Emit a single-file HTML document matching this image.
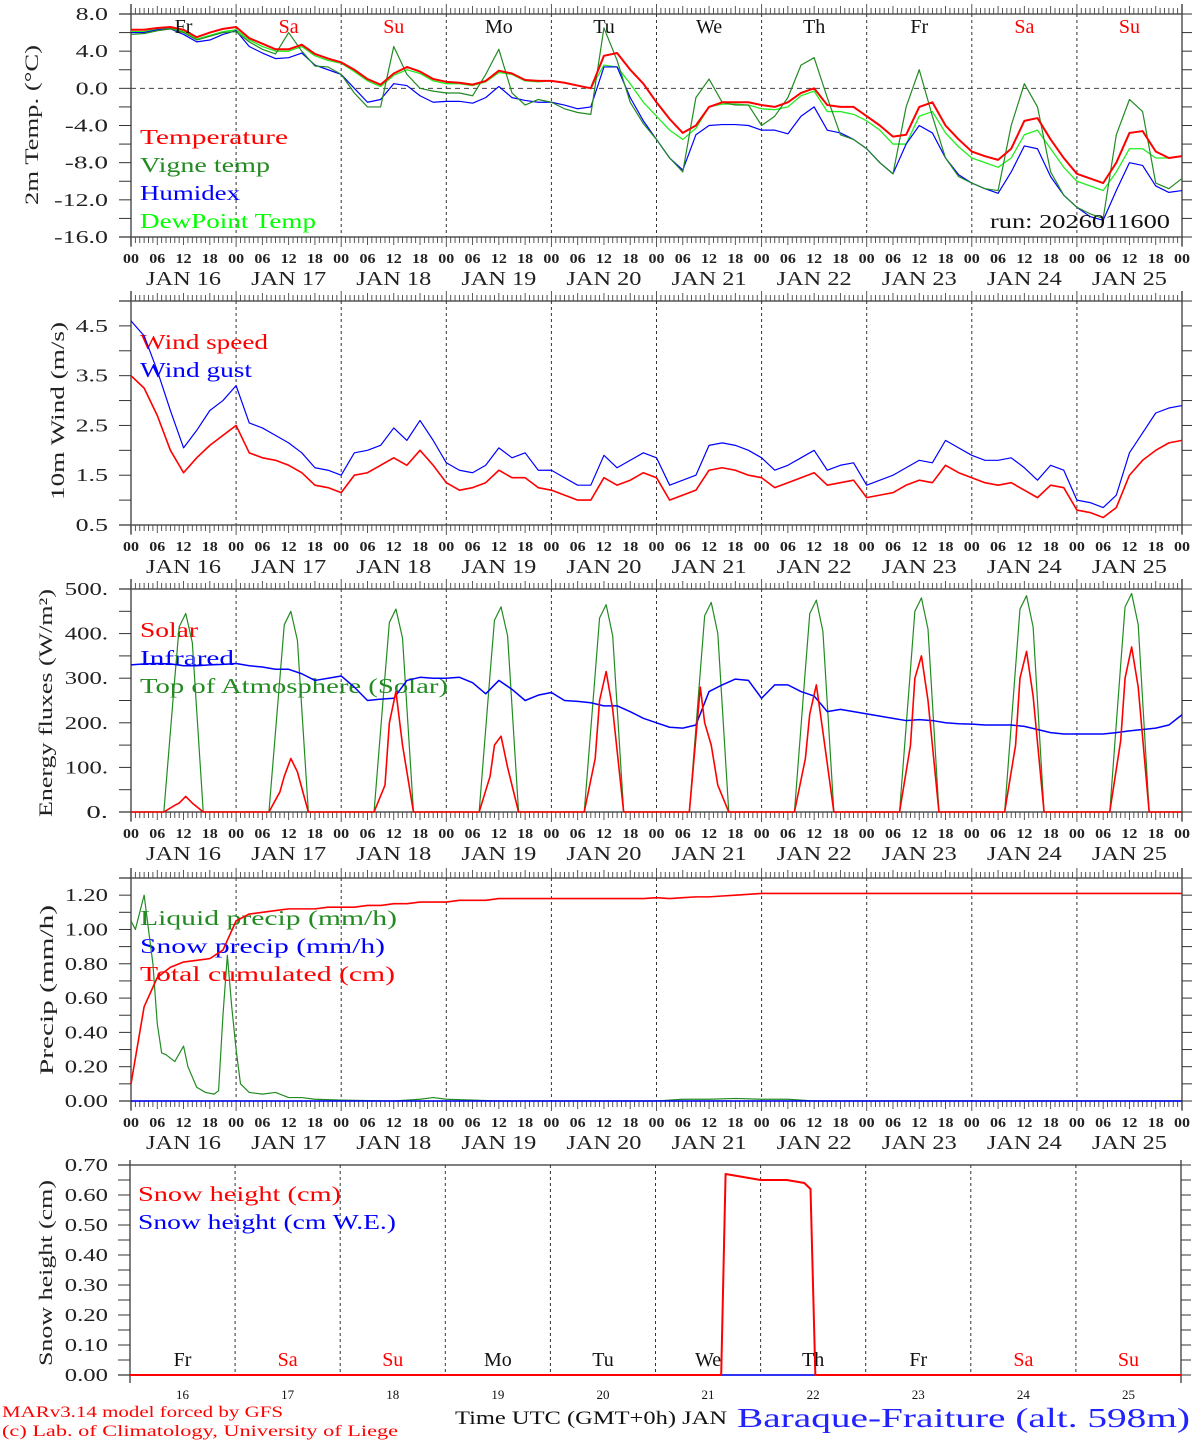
<!DOCTYPE html>
<html><head><meta charset="utf-8"><style>
html,body{margin:0;padding:0;background:#fff}
svg{display:block}
text{font-family:"Liberation Serif",serif}
</style></head><body>
<svg id="chart" width="1194" height="1440" viewBox="0 0 1194 1440" xmlns="http://www.w3.org/2000/svg"></svg>
<script>
// ---------- DATA ----------
const dayNames = ["Fr","Sa","Su","Mo","Tu","We","Th","Fr","Sa","Su"];
const dayNums = ["16","17","18","19","20","21","22","23","24","25"];
const hourTicks = ["00","06","12","18"];
// 3-hourly series (81 values, 00h JAN16 .. 00h JAN26)
const temperature = [6.3,6.3,6.5,6.6,6.3,5.5,6.0,6.4,6.6,
 5.4,4.8,4.2,4.2,4.7,3.7,3.2,2.8,
 2.0,1.0,0.4,1.6,2.3,1.8,1.0,0.7,
 0.6,0.4,0.8,1.9,1.6,0.9,0.8,0.8,
 0.6,0.3,0.0,3.5,3.8,2.0,0.5,-1.5,
 -3.3,-4.8,-4.0,-2.0,-1.5,-1.5,-1.5,-1.8,
 -2.0,-1.5,-0.5,0.0,-1.8,-2.0,-2.0,-3.0,
 -4.0,-5.2,-5.0,-2.0,-1.5,-4.0,-5.5,-6.8,
 -7.3,-7.7,-6.5,-3.5,-3.2,-5.5,-7.5,-9.2,
 -9.7,-10.2,-8.0,-4.8,-4.6,-6.8,-7.5,-7.3];
const vigneTemp = [5.8,5.9,6.2,6.4,6.0,5.2,5.6,6.0,6.1,
 5.0,4.2,3.7,6.0,4.0,2.4,2.3,1.5,
 -0.5,-2.0,-2.0,4.5,1.5,0.0,-0.3,-0.5,
 -0.5,-0.8,1.5,4.2,-0.5,-1.8,-1.2,-1.5,
 -2.2,-2.6,-2.8,6.5,3.0,-1.5,-3.8,-5.5,
 -7.5,-9.0,-1.0,1.0,-1.5,-1.8,-1.8,-4.0,
 -3.0,-1.0,2.5,3.3,-1.0,-5.0,-5.5,-6.5,
 -8.0,-9.2,-2.0,2.0,-3.0,-7.5,-9.5,-10.2,
 -10.8,-11.0,-4.0,0.5,-2.0,-9.0,-11.5,-12.8,
 -13.5,-14.0,-5.0,-1.2,-2.5,-10.2,-10.8,-9.7];
const humidex = [6.0,6.0,6.3,6.4,5.8,5.0,5.2,5.8,6.2,
 4.5,3.8,3.2,3.3,3.8,2.5,2.0,1.5,
 0.0,-1.5,-1.2,0.5,0.3,-0.8,-1.5,-1.4,
 -1.4,-1.6,-1.0,0.2,-1.0,-1.3,-1.5,-1.5,
 -1.8,-2.2,-2.0,2.3,2.3,-1.0,-3.5,-5.5,
 -7.5,-8.8,-5.0,-4.0,-3.9,-3.9,-4.0,-4.5,
 -4.5,-4.9,-3.0,-2.0,-4.5,-4.8,-5.5,-6.5,
 -8.0,-9.2,-6.0,-4.0,-4.8,-7.5,-9.3,-10.2,
 -10.8,-11.3,-9.0,-6.2,-6.5,-9.5,-11.5,-12.8,
 -13.8,-14.2,-11.0,-8.0,-8.3,-10.5,-11.2,-11.0];
const dewPoint = [6.1,6.1,6.4,6.5,6.1,5.3,5.7,6.1,6.3,
 5.2,4.5,4.0,4.0,4.5,3.5,3.0,2.7,
 1.8,0.8,0.2,1.4,2.0,1.6,0.8,0.5,
 0.5,0.3,0.7,1.7,1.5,0.8,0.7,0.8,
 0.6,0.3,0.0,2.5,2.3,0.5,-1.5,-3.0,
 -4.5,-5.5,-4.3,-2.0,-1.7,-1.7,-1.8,-2.2,
 -2.3,-2.0,-0.8,-0.3,-2.5,-2.5,-2.8,-3.5,
 -4.5,-6.0,-6.0,-3.0,-2.5,-4.8,-6.3,-7.5,
 -8.0,-8.5,-7.5,-5.0,-4.5,-6.5,-8.5,-10.0,
 -10.5,-11.0,-9.0,-6.5,-6.5,-7.5,-7.5,-7.3];
const windSpeed = [3.5,3.25,2.7,2.0,1.55,1.85,2.1,2.3,
 2.5,1.95,1.85,1.8,1.7,1.55,1.3,1.25,
 1.15,1.5,1.55,1.7,1.85,1.7,2.0,1.7,
 1.35,1.2,1.25,1.35,1.6,1.45,1.45,1.25,
 1.2,1.1,1.0,1.0,1.45,1.3,1.4,1.55,
 1.45,1.0,1.1,1.2,1.6,1.65,1.6,1.5,
 1.45,1.25,1.35,1.45,1.55,1.3,1.35,1.4,
 1.05,1.1,1.15,1.3,1.4,1.35,1.7,1.55,
 1.45,1.35,1.3,1.35,1.2,1.05,1.3,1.25,
 0.8,0.75,0.65,0.85,1.5,1.8,2.0,2.15,2.2];
const windGust = [4.6,4.3,3.6,2.8,2.05,2.4,2.8,3.0,
 3.3,2.55,2.45,2.3,2.15,1.95,1.65,1.6,
 1.5,1.95,2.0,2.1,2.45,2.2,2.6,2.2,
 1.75,1.6,1.55,1.7,2.05,1.85,1.95,1.6,
 1.6,1.45,1.3,1.3,1.9,1.65,1.8,1.95,
 1.85,1.3,1.4,1.5,2.1,2.15,2.1,2.0,
 1.85,1.6,1.7,1.85,2.0,1.6,1.7,1.75,
 1.3,1.4,1.5,1.65,1.8,1.75,2.2,2.05,
 1.9,1.8,1.8,1.85,1.65,1.4,1.7,1.6,
 1.0,0.95,0.85,1.1,1.95,2.35,2.75,2.85,2.9];
const infrared = [330,332,333,332,328,328,330,331,
 333,328,325,320,320,310,295,300,
 305,280,250,253,255,295,302,300,
 300,302,290,265,295,275,250,262,
 268,250,248,245,238,238,225,210,
 200,190,188,195,270,285,298,295,
 255,285,285,270,260,225,230,225,
 220,215,210,205,207,205,200,198,
 197,195,195,195,192,185,178,175,
 175,175,175,178,182,185,188,195,218];
const totalCum = [0.10,0.55,0.72,0.78,0.81,0.82,0.83,0.88,
 1.05,1.09,1.10,1.11,1.12,1.12,1.12,1.13,
 1.13,1.13,1.14,1.14,1.15,1.15,1.16,1.16,
 1.16,1.17,1.17,1.17,1.18,1.18,1.18,1.18,
 1.18,1.18,1.18,1.18,1.18,1.18,1.18,1.18,
 1.185,1.18,1.185,1.19,1.19,1.195,1.20,1.205,
 1.21,1.21,1.21,1.21,1.21,1.21,1.21,1.21,
 1.21,1.21,1.21,1.21,1.21,1.21,1.21,1.21,
 1.21,1.21,1.21,1.21,1.21,1.21,1.21,1.21,
 1.21,1.21,1.21,1.21,1.21,1.21,1.21,1.21,1.21];
const snowPrecip = [0,0,0,0,0,0,0,0,0,0,0,0,0,0,0,0,0,0,0,0,0,0,0,0,0,0,0,0,0,0,0,0,0,0,0,0,0,0,0,0,
 0,0,0,0,0,0,0,0,0,0,0,0,0,0,0,0,0,0,0,0,0,0,0,0,0,0,0,0,0,0,0,0,0,0,0,0,0,0,0,0,0];
// liquid precip with its own hours
const liquidHours = [0,1,3,5,6,7,8,10,12,13,15,17,19,20,21,22,23,24,25,27,30,33,36,39,42,48,60,66,69,72,84,120,126,132,138,144,150,156,168,240];
const liquidPrecip = [1.05,1.0,1.2,0.8,0.45,0.28,0.27,0.23,0.32,0.2,0.08,0.05,0.04,0.06,0.5,0.85,0.55,0.3,0.1,0.05,0.04,0.05,0.02,0.02,0.01,0.005,0.0,0.01,0.02,0.01,0.0,0.0,0.01,0.01,0.015,0.01,0.01,0.0,0.0,0.0];
// radiation with its own hours
const fluxHoursOfDay = [0,7.5,10,11,12.5,14,16.5];
const toaSolar = [0,0,300,415,445,380,0, 0,0,300,420,450,385,0, 0,0,305,425,455,390,0, 0,0,310,430,460,395,0, 0,0,310,435,465,395,0,
 0,0,315,440,470,400,0, 0,0,320,445,475,405,0, 0,0,320,450,480,410,0, 0,0,325,455,485,415,0, 0,0,330,460,490,420,0, 0];
const solar = [0,0,15,20,35,20,0, 0,0,45,80,120,90,0, 0,0,60,200,270,150,0, 0,0,80,150,170,100,0, 0,0,120,250,315,230,0,
 0,0,280,200,150,60,0, 0,0,120,220,285,180,0, 0,0,150,300,350,250,0, 0,0,150,300,360,260,0, 0,0,160,300,370,280,0, 0];
// snow height
const snowHours = [0,135,136,144,150,154,155.4,156.5,240];
const snowHeight = [0,0,0.67,0.65,0.65,0.64,0.62,0,0];
const snowWE = [0,0,0,0,0,0,0,0,0];

// ---------- DRAW ----------
const svg = document.getElementById('chart');
const NS = 'http://www.w3.org/2000/svg';
function el(tag, attrs, parent){const e=document.createElementNS(NS,tag);for(const k in attrs)e.setAttribute(k,attrs[k]);(parent||svg).appendChild(e);return e;}
function txt(s, attrs, parent){const e=el('text',attrs,parent);e.textContent=s;return e;}

function makePanel(cfg){
  const g=el('g',{});
  
  
  const X0=cfg.x0, X1=cfg.x1, T=cfg.top, B=cfg.bottom;
  const xh=h=>X0+(X1-X0)*h/240;
  const yv=v=>B-(v-cfg.vmin)/(cfg.vmax-cfg.vmin)*(B-T);
  for(let d=1;d<10;d++){
    const l=el('line',{x1:xh(d*24),x2:xh(d*24),y1:T,y2:B,stroke:'#333','stroke-width':1,'stroke-dasharray':'3,3'},g);
    
    
  }
  if(cfg.zeroLine){
    const l=el('line',{x1:X0,x2:X1,y1:yv(0),y2:yv(0),stroke:'#444','stroke-width':1,'stroke-dasharray':'5,4'},g);
    
    
  }
  el('line',{x1:X0-12,x2:X1,y1:T,y2:T,stroke:'#333','stroke-width':1.3},g);
  el('line',{x1:X0-12,x2:X1,y1:B,y2:B,stroke:'#333','stroke-width':1.3},g);
  el('line',{x1:X0,x2:X0,y1:cfg.hatch?T-10:T-5,y2:B+(cfg.hatch?9:8),stroke:'#555','stroke-width':1.5},g);
  el('line',{x1:X1,x2:X1,y1:cfg.hatch?T-10:T-5,y2:B+(cfg.hatch?9:8),stroke:'#555','stroke-width':1.5},g);
  if(cfg.hatch){
    for(let h=0;h<=240;h++){
      const len=h%24===0?10:(h%6===0?8:6);
      el('line',{x1:xh(h),x2:xh(h),y1:T-len,y2:T,stroke:'#444','stroke-width':0.9},g);
      el('line',{x1:xh(h),x2:xh(h),y1:B,y2:B+len,stroke:'#444','stroke-width':0.9},g);
    }
  }
  const nMinor=Math.round((cfg.vmax-cfg.vmin)/cfg.minor);
  for(let i=0;i<=nMinor;i++){
    const v=cfg.vmin+i*cfg.minor, y=yv(v);
    el('line',{x1:X0-12,x2:X0,y1:y,y2:y,stroke:'#333','stroke-width':1},g);
    el('line',{x1:X1,x2:X1+10,y1:y,y2:y,stroke:'#333','stroke-width':1},g);
  }
  cfg.labels.forEach(lb=>{
    const t=txt(lb.t,{x:108,y:yv(lb.v)+6,'text-anchor':'end','font-size':18,fill:'#222',textLength:lb.t.length*10.8,lengthAdjust:'spacingAndGlyphs'},g);
    
    
  });
  const yt=txt(cfg.ytitle,{x:0,y:0,transform:`translate(${cfg.ytx},${cfg.yty}) rotate(-90)`,'text-anchor':'middle','font-size':19,fill:'#222',textLength:cfg.ytl,lengthAdjust:'spacingAndGlyphs'},g);
  
  
  if(cfg.hourLabels){
    for(let d=0;d<=10;d++){
      for(let k=0;k<4;k++){
        if(d===10&&k>0)break;
        const t=txt(hourTicks[k],{x:xh(d*24+k*6),y:B+26,'text-anchor':'middle','font-size':14,'font-weight':'bold',fill:'#222',textLength:16,lengthAdjust:'spacingAndGlyphs'},g);
        
        
      }
    }
    for(let d=0;d<10;d++){
      const t=txt('JAN  '+dayNums[d],{x:xh(d*24+12),y:B+48,'text-anchor':'middle','font-size':20,fill:'#222',textLength:75,lengthAdjust:'spacingAndGlyphs'},g);
      
      
    }
  }
  cfg.legend.forEach((lg,i)=>{
    const t=txt(lg.t,{x:cfg.legX,y:cfg.legY+i*28,'font-size':21,fill:lg.c,textLength:lg.w,lengthAdjust:'spacingAndGlyphs'},g);
    
    
  });
  return {g,xh,yv};
}
function series(p, hours, vals, color, w, name){
  let d='';
  vals.forEach((v,i)=>{d+=(i?'L':'M')+p.xh(hours[i]).toFixed(2)+','+p.yv(v).toFixed(2);});
  const path=el('path',{d,fill:'none',stroke:color,'stroke-width':w,'stroke-linejoin':'round'},p.g);
  
  
}
const h3 = totalCum.map((_,i)=>i*3);
const fluxHours=[];
for(let d=0;d<10;d++) fluxHoursOfDay.forEach(h=>fluxHours.push(d*24+h));
fluxHours.push(240);

// Panel 1
const p1=makePanel({name:'temperature-panel',x0:131,x1:1182,top:14,bottom:237,vmin:-16,vmax:8,minor:2,hatch:true,hourLabels:true,zeroLine:true,
 labels:[{v:8,t:'8.0'},{v:4,t:'4.0'},{v:0,t:'0.0'},{v:-4,t:'-4.0'},{v:-8,t:'-8.0'},{v:-12,t:'-12.0'},{v:-16,t:'-16.0'}],
 ytitle:'2m Temp. (°C)',ytx:38,yty:125,ytl:160,legX:140,legY:144,
 legend:[{t:'Temperature',c:'#f00',w:148},{t:'Vigne temp',c:'#228b22',w:130},{t:'Humidex',c:'#00f',w:100},{t:'DewPoint Temp',c:'#0f0',w:176}]});
series(p1,h3,dewPoint,'#22ee22',1.3,'dewpoint-line');
series(p1,h3,humidex,'#0000ff',1.2,'humidex-line');
series(p1,h3,vigneTemp,'#228b22',1.2,'vigne-temp-line');
series(p1,h3,temperature,'#ff0000',2,'temperature-line');
dayNames.forEach((n,d)=>{
  const t=txt(n,{x:p1.xh(d*24+12),y:33,'text-anchor':'middle','font-size':20,fill:(n==='Sa'||n==='Su')?'#f00':'#111'},p1.g);
  
  
});
const run=txt('run: 2026011600',{x:990,y:228,'font-size':20,fill:'#111',textLength:180,lengthAdjust:'spacingAndGlyphs'},p1.g);



// Panel 2
const p2=makePanel({name:'wind-panel',x0:131,x1:1182,top:301,bottom:525,vmin:0.5,vmax:5.0,minor:0.5,hatch:true,hourLabels:true,
 labels:[{v:4.5,t:'4.5'},{v:3.5,t:'3.5'},{v:2.5,t:'2.5'},{v:1.5,t:'1.5'},{v:0.5,t:'0.5'}],
 ytitle:'10m Wind (m/s)',ytx:64,yty:411,ytl:178,legX:140,legY:349,
 legend:[{t:'Wind speed',c:'#f00',w:128},{t:'Wind gust',c:'#00f',w:112}]});
series(p2,h3,windGust,'#0000ff',1.2,'wind-gust-line');
series(p2,h3,windSpeed,'#ff0000',1.6,'wind-speed-line');

// Panel 3
const p3=makePanel({name:'energy-flux-panel',x0:131,x1:1182,top:589,bottom:812,vmin:0,vmax:500,minor:50,hatch:true,hourLabels:true,
 labels:[{v:500,t:'500.'},{v:400,t:'400.'},{v:300,t:'300.'},{v:200,t:'200.'},{v:100,t:'100.'},{v:0,t:'0.'}],
 ytitle:'Energy fluxes (W/m²)',ytx:52,yty:703,ytl:228,legX:140,legY:637,
 legend:[{t:'Solar',c:'#f00',w:58},{t:'Infrared',c:'#00f',w:94},{t:'Top of Atmosphere (Solar)',c:'#228b22',w:308}]});
series(p3,fluxHours,toaSolar,'#228b22',1.2,'toa-solar-line');
series(p3,h3,infrared,'#0000ff',1.5,'infrared-line');
series(p3,fluxHours,solar,'#ff0000',1.6,'solar-line');

// Panel 4
const p4=makePanel({name:'precip-panel',x0:131,x1:1182,top:878,bottom:1101,vmin:0,vmax:1.3,minor:0.1,hatch:true,hourLabels:true,
 labels:[{v:1.2,t:'1.20'},{v:1.0,t:'1.00'},{v:0.8,t:'0.80'},{v:0.6,t:'0.60'},{v:0.4,t:'0.40'},{v:0.2,t:'0.20'},{v:0,t:'0.00'}],
 ytitle:'Precip (mm/h)',ytx:53,yty:990,ytl:170,legX:140,legY:925,
 legend:[{t:'Liquid precip (mm/h)',c:'#228b22',w:257},{t:'Snow precip (mm/h)',c:'#00f',w:245},{t:'Total cumulated (cm)',c:'#f00',w:255}]});
series(p4,liquidHours,liquidPrecip,'#228b22',1.2,'liquid-precip-line');
series(p4,h3,snowPrecip,'#0000ff',1.5,'snow-precip-line');
series(p4,h3,totalCum,'#ff0000',1.6,'total-cumulated-line');

// Panel 5
const p5=makePanel({name:'snow-panel',x0:130,x1:1181,top:1165,bottom:1375,vmin:0,vmax:0.7,minor:0.05,hatch:false,hourLabels:false,
 labels:[{v:0.7,t:'0.70'},{v:0.6,t:'0.60'},{v:0.5,t:'0.50'},{v:0.4,t:'0.40'},{v:0.3,t:'0.30'},{v:0.2,t:'0.20'},{v:0.1,t:'0.10'},{v:0,t:'0.00'}],
 ytitle:'Snow height (cm)',ytx:52,yty:1273,ytl:186,legX:138,legY:1201,
 legend:[{t:'Snow height (cm)',c:'#f00',w:203},{t:'Snow height (cm W.E.)',c:'#00f',w:258}]});
series(p5,snowHours,snowWE,'#0000ff',1.5,'snow-we-line');
series(p5,snowHours,snowHeight,'#ff0000',2,'snow-height-line');
dayNames.forEach((n,d)=>{
  const t=txt(n,{x:p5.xh(d*24+12),y:1366,'text-anchor':'middle','font-size':20,fill:(n==='Sa'||n==='Su')?'#f00':'#111'},p5.g);
  
  
  const t2=txt(dayNums[d],{x:p5.xh(d*24+12),y:1399,'text-anchor':'middle','font-size':13,fill:'#111'},p5.g);
  
  
});

// Footer
const f1=txt('MARv3.14 model forced by GFS',{x:2,y:1417,'font-size':16,fill:'#f00',textLength:281,lengthAdjust:'spacingAndGlyphs'});


const f2=txt('(c) Lab. of Climatology, University of Liege',{x:2,y:1436,'font-size':16,fill:'#f00',textLength:396,lengthAdjust:'spacingAndGlyphs'});


const f3=txt('Time UTC (GMT+0h) JAN',{x:455,y:1424,'font-size':19,fill:'#111',textLength:272,lengthAdjust:'spacingAndGlyphs'});


const f4=txt('Baraque-Fraiture (alt. 598m)',{x:737,y:1427,'font-size':27,fill:'#22f',textLength:453,lengthAdjust:'spacingAndGlyphs'});


</script>
</body></html>
